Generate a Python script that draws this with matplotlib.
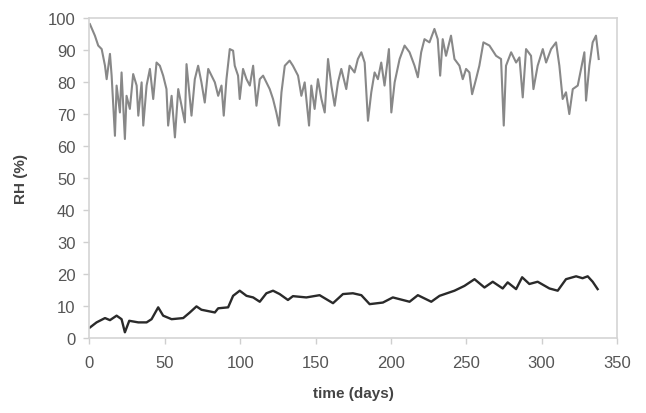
import numpy as np
import matplotlib.pyplot as plt

# gray series: RH (upper, noisy)
gray_days = [0.3, 3.6, 5.8, 8.1, 10.3, 11.4, 13.6, 14.7, 16.9, 18.0, 20.2, 21.3, 23.5, 24.6,
             26.8, 29.0, 31.3, 32.4, 34.6, 35.7, 37.9, 40.1, 42.3, 44.5, 46.7, 48.9, 51.1,
             52.2, 54.5, 56.7, 58.9, 61.1, 63.3, 64.4, 66.6, 67.7, 69.9, 72.1, 74.3, 76.5,
             78.8, 81.0, 83.2, 85.4, 87.6, 89.1, 90.9, 93.1, 95.3, 96.4, 98.6, 99.7, 101.9,
             104.2, 106.4, 108.6, 110.8, 113.0, 115.2, 117.4, 119.6, 121.8, 124.0, 125.8,
             127.4, 129.6, 132.8, 135.0, 138.4, 140.6, 142.8, 145.7, 147.2, 149.4, 151.6,
             153.9, 156.1, 158.3, 160.5, 162.7, 164.9, 167.1, 170.4, 172.6, 175.9, 178.1,
             180.4, 182.6, 184.8, 187.0, 189.2, 191.4, 193.6, 195.8, 198.7, 200.3, 202.5,
             205.8, 209.1, 212.4, 215.7, 217.9, 220.1, 222.3, 225.6, 228.9, 231.1, 232.7,
             234.4, 236.6, 239.9, 242.2, 245.5, 247.7, 249.9, 252.1, 253.9, 256.5, 258.7,
             261.4, 265.4, 269.8, 273.1, 274.9, 276.4, 279.8, 283.1, 285.3, 287.5, 289.7,
             293.0, 294.6, 297.4, 300.8, 303.0, 306.3, 309.6, 311.8, 314.0, 316.2, 318.4,
             320.7, 324.0, 326.2, 328.4, 329.5, 331.7, 333.9, 336.1, 337.9]
gray_rh = [98.1, 94.5, 91.4, 90.3, 85.1, 80.9, 88.8, 82.0, 63.2, 78.9, 70.5, 83.0, 62.2, 75.7,
           71.6, 82.5, 78.9, 69.5, 79.9, 66.4, 78.9, 84.1, 74.7, 86.1, 85.1, 82.0, 77.8,
           66.4, 75.7, 62.7, 77.8, 72.6, 67.4, 85.6, 74.7, 69.5, 80.9, 85.1, 79.9, 73.6,
           84.1, 82.0, 79.9, 75.7, 78.9, 69.5, 80.9, 90.3, 89.8, 85.1, 82.0, 74.7, 84.1,
           80.9, 78.9, 85.1, 72.6, 80.9, 82.0, 79.9, 77.8, 74.7, 70.5, 66.4,
           76.8, 85.1, 86.7, 85.1, 82.0, 75.7, 79.9, 66.4, 78.9, 71.6, 80.9,
           74.7, 70.5, 87.2, 78.9, 72.6, 79.9, 84.1, 77.8, 85.1, 83.0, 87.2,
           89.3, 86.1, 67.9, 76.8, 83.0, 80.9, 86.1, 78.9, 90.3, 70.5, 79.9,
           87.2, 91.4, 89.3, 85.1, 81.5, 89.3, 93.4, 92.4, 96.6, 93.4, 82.0,
           93.4, 88.2, 94.5, 87.2, 85.1, 80.9, 84.1, 83.0, 76.2, 80.9, 85.1,
           92.4, 91.4, 88.2, 87.2, 66.4, 85.1, 89.3, 86.1, 87.7, 75.2, 90.3,
           88.2, 77.8, 85.1, 90.3, 86.1, 90.3, 92.4, 85.1, 74.7, 76.8, 70.0,
           77.8, 78.9, 84.1, 89.3, 74.2, 85.1, 92.4, 94.5, 87.2]

# black series: RH (lower)
black_days = [0.3, 4.7, 10.3, 13.6, 18.0, 21.3, 23.5, 26.4, 32.4, 37.9, 41.2, 45.6, 48.9,
              54.5, 62.2, 66.6, 71.0, 74.3, 83.2, 85.4, 92.0, 95.3, 99.7, 104.2, 108.6,
              113.0, 117.4, 121.8, 126.2, 131.7, 135.0, 143.9, 152.7, 161.6, 168.2, 174.8,
              180.4, 185.9, 194.7, 201.3, 212.4, 217.9, 226.8, 232.3, 242.2, 248.8, 255.5,
              262.1, 267.6, 274.2, 277.5, 283.1, 287.1, 291.9, 297.4, 305.2, 310.7, 316.2,
              322.9, 327.2, 330.6, 333.9, 337.2]
black_rh = [3.3, 4.9, 6.25, 5.6, 7.0, 5.9, 1.8, 5.4, 4.9, 4.9, 5.9, 9.6, 7.0,
            5.9, 6.25, 8.0, 9.9, 8.85, 8.0, 9.3, 9.6, 13.2, 14.8, 13.2, 12.7,
            11.35, 14.0, 14.8, 13.75, 11.9, 13.1, 12.7, 13.4, 10.9, 13.75, 14.0,
            13.4, 10.6, 11.1, 12.7, 11.35, 13.4, 11.35, 13.2, 14.8, 16.3, 18.4,
            15.8, 17.6, 15.5, 17.4, 15.3, 19.0, 16.9, 17.6, 15.5, 14.8, 18.4,
            19.3, 18.7, 19.3, 17.6, 15.3]

x_ticks = [0, 50, 100, 150, 200, 250, 300, 350]
y_ticks = [0, 10, 20, 30, 40, 50, 60, 70, 80, 90, 100]

plt.rcParams['font.family'] = ['Liberation Sans', 'DejaVu Sans']

fig = plt.figure(figsize=(6.46, 4.14), dpi=100)
ax = fig.add_axes([0.1385, 0.181, 0.8165, 0.773])

ax.plot(gray_days, gray_rh, color='#888888', lw=1.5)
ax.plot(black_days, black_rh, color='#2a2a2a', lw=1.7)

ax.set_xlim(0, 350)
ax.set_ylim(0, 100)
ax.set_xticks(x_ticks)
ax.set_yticks(y_ticks)
ax.tick_params(colors='#cfcfcf', labelcolor='#555555', labelsize=12, length=4, width=1)
ax.tick_params(axis='x', pad=8)
ax.tick_params(axis='y', pad=6)
for s in ax.spines.values():
    s.set_color('#d4d4d4')
    s.set_linewidth(1.2)

ax.set_xlabel('time (days)', fontsize=11, fontweight='bold', color='#444444', labelpad=12)
ax.set_ylabel('RH (%)', fontsize=11, fontweight='bold', color='#444444', labelpad=14)

fig.savefig('out.png', dpi=100)
